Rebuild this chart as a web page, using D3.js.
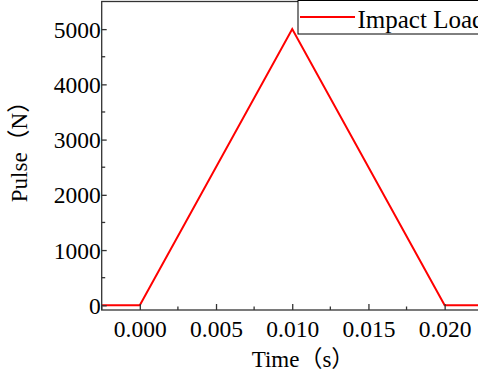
<!DOCTYPE html>
<html><head><meta charset="utf-8">
<script src="https://cdn.jsdelivr.net/npm/d3@7"></script>
<style>
body{margin:0;background:#fff;overflow:hidden}
svg text{font-family:"Liberation Serif","Noto Sans CJK SC",serif;fill:#000}
</style></head>
<body><svg id="c" width="478" height="373"></svg>
<script>
const times = [-0.0025, 0.000, 0.010, 0.020, 0.0235];
const pulse = [0, 0, 5000, 0, 0];
const xTicks = [0.000, 0.005, 0.010, 0.015, 0.020];
const yTicks = [0, 1000, 2000, 3000, 4000, 5000];
const seriesName = "Impact Load";
const xTitle = "Time（s）";
const yTitle = "Pulse（N）";

const svg = d3.select("#c");
const L = 101.7, R = 498, T = 1.5, B = 310;
const x = d3.scaleLinear().domain([-0.0025, 0.0235]).range([L, R]);
const y = d3.scaleLinear().domain([-85, 5500]).range([B, T]);
const axisColor = "#333";
const FF = "'Liberation Serif','Noto Sans CJK SC',serif";

// data line
svg.append("path")
  .datum(times.map((t,i)=>[t,pulse[i]]))
  .attr("fill","none").attr("stroke","#ff0000").attr("stroke-width",2)
  .attr("d", d3.line().x(d=>x(d[0])).y(d=>y(d[1])));

// frame
svg.append("rect").attr("x",L).attr("y",T).attr("width",R-L).attr("height",B-T)
  .attr("fill","none").attr("stroke",axisColor).attr("stroke-width",1.3);

// x axis
const gx = svg.append("g").attr("transform",`translate(0,${B})`)
  .call(d3.axisBottom(x).tickValues(xTicks).tickFormat(d3.format(".3f")).tickSizeInner(-6).tickSizeOuter(0));
gx.attr("font-family",FF);
gx.select(".domain").remove();
gx.selectAll(".tick line").attr("stroke",axisColor).attr("stroke-width",1.3);
gx.selectAll(".tick text").attr("y",27).attr("dy",0).attr("font-size",23.5);
const xMinor = [-0.0025,0.0025,0.0075,0.0125,0.0175,0.0225];
svg.append("g").selectAll("line").data(xMinor).join("line")
  .attr("x1",d=>x(d)).attr("x2",d=>x(d)).attr("y1",B).attr("y2",B-3.5)
  .attr("stroke",axisColor).attr("stroke-width",1.3);

// y axis
const gy = svg.append("g").attr("transform",`translate(${L},0)`)
  .call(d3.axisLeft(y).tickValues(yTicks).tickFormat(d3.format("d")).tickSizeInner(-5).tickSizeOuter(0));
gy.attr("font-family",FF);
gy.select(".domain").remove();
gy.selectAll(".tick line").attr("stroke",axisColor).attr("stroke-width",1.3);
gy.selectAll(".tick text").attr("x",-1).attr("dy","0.34em").attr("font-size",23.5);
const yMinor = [500,1500,2500,3500,4500];
svg.append("g").selectAll("line").data(yMinor).join("line")
  .attr("x1",L).attr("x2",L+3.5).attr("y1",d=>y(d)).attr("y2",d=>y(d))
  .attr("stroke",axisColor).attr("stroke-width",1.3);

// titles
svg.append("text").attr("x",303).attr("y",366.5).attr("text-anchor","middle")
  .attr("font-size",23).text(xTitle);
svg.append("text").attr("transform","translate(27,146) rotate(-90)").attr("text-anchor","middle")
  .attr("font-size",23).text(yTitle);

// legend
const lg = svg.append("g");
lg.append("rect").attr("x",298).attr("y",0.5).attr("width",200).attr("height",33.5)
  .attr("fill","#fff").attr("stroke","#000").attr("stroke-width",1);
lg.append("line").attr("x1",300).attr("x2",355).attr("y1",17).attr("y2",17)
  .attr("stroke","#ff0000").attr("stroke-width",2);
lg.append("text").attr("x",357.5).attr("y",28).attr("font-size",25).text(seriesName);
</script></body></html>
